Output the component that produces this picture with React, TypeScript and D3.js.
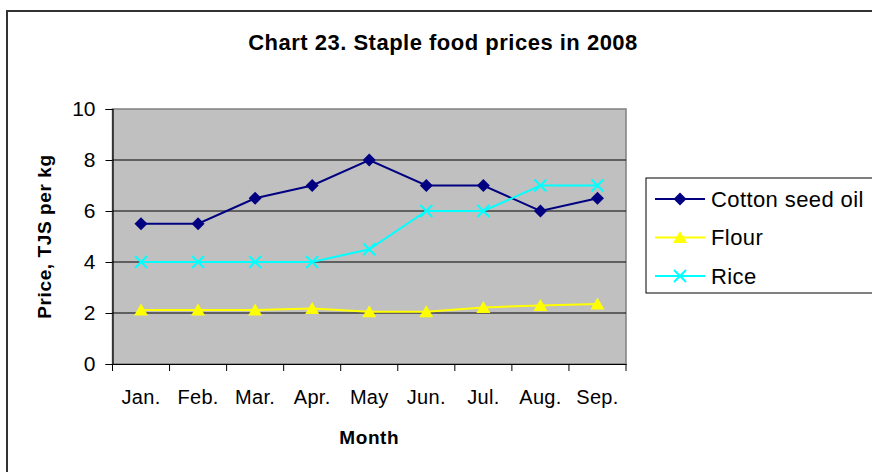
import { useEffect, useRef } from "react";
import * as d3 from "d3";

const months = ["Jan.", "Feb.", "Mar.", "Apr.", "May", "Jun.", "Jul.", "Aug.", "Sep."];
const cottonSeedOil = [5.5, 5.5, 6.5, 7, 8, 7, 7, 6, 6.5];
const flour = [2.12, 2.12, 2.12, 2.18, 2.05, 2.05, 2.22, 2.29, 2.35];
const rice = [4, 4, 4, 4, 4.5, 6, 6, 7, 7];
const yTicks = [0, 2, 4, 6, 8, 10];

const seriesList = [
  { name: "Cotton seed oil", values: cottonSeedOil, color: "#000080", marker: "diamond" },
  { name: "Flour", values: flour, color: "#FFFF00", marker: "triangle" },
  { name: "Rice", values: rice, color: "#00FFFF", marker: "cross" },
];

const W = 872;
const H = 472;
const plot = { left: 112.5, right: 626, top: 109, bottom: 364 };
const font = "'Liberation Sans', Arial, sans-serif";

function drawMarker(g: any, type: string, x: number, y: number, color: string) {
  if (type === "diamond") {
    g.append("path")
      .attr("d", `M${x},${y - 6.5}L${x + 6.5},${y}L${x},${y + 6.5}L${x - 6.5},${y}Z`)
      .attr("fill", color);
  } else if (type === "triangle") {
    g.append("path")
      .attr("d", `M${x},${y - 6.5}L${x + 7},${y + 5.5}L${x - 7},${y + 5.5}Z`)
      .attr("fill", color);
  } else {
    g.append("path")
      .attr("d", `M${x - 6},${y - 6}L${x + 6},${y + 6}M${x + 6},${y - 6}L${x - 6},${y + 6}`)
      .attr("stroke", color)
      .attr("stroke-width", 2)
      .attr("fill", "none");
  }
}

export default function App() {
  const ref = useRef<SVGSVGElement>(null);

  useEffect(() => {
    const svg = d3.select(ref.current);
    svg.selectAll("*").remove();

    // outer chart border (runs off right and bottom)
    svg.append("path")
      .attr("d", `M7,${H + 5}V11H${W + 5}`)
      .attr("fill", "none")
      .attr("stroke", "#333")
      .attr("stroke-width", 2);

    svg.append("text")
      .attr("x", 443)
      .attr("y", 50)
      .attr("text-anchor", "middle")
      .attr("font-family", font)
      .attr("font-weight", "bold")
      .attr("font-size", 22)
      .attr("letter-spacing", 0.5)
      .text("Chart 23. Staple food prices in 2008");

    const x = d3.scaleBand().domain(months).range([plot.left, plot.right]);
    const y = d3.scaleLinear().domain([0, 10]).range([plot.bottom, plot.top]);

    // plot area
    svg.append("rect")
      .attr("x", plot.left)
      .attr("y", plot.top)
      .attr("width", plot.right - plot.left)
      .attr("height", plot.bottom - plot.top)
      .attr("fill", "#C0C0C0")
      .attr("stroke", "#808080")
      .attr("stroke-width", 1.5);

    svg.append("g")
      .selectAll("line")
      .data(yTicks.filter(t => t > 0 && t < 10))
      .join("line")
      .attr("x1", plot.left)
      .attr("x2", plot.right)
      .attr("y1", d => y(d))
      .attr("y2", d => y(d))
      .attr("stroke", "#000")
      .attr("stroke-width", 1);

    // y axis
    const yAxis = svg.append("g")
      .attr("transform", `translate(${plot.left},0)`)
      .call(d3.axisLeft(y).tickValues(yTicks).tickSize(7).tickPadding(10).tickFormat(d3.format("d")));
    yAxis.select(".domain").attr("stroke", "#000").attr("stroke-width", 1.2);
    yAxis.selectAll("text").attr("font-family", font).attr("font-size", 21).attr("fill", "#000");

    // x axis
    const xAxis = svg.append("g")
      .attr("transform", `translate(0,${plot.bottom})`)
      .call(d3.axisBottom(x).tickSize(0).tickPadding(26));
    xAxis.select(".domain").attr("stroke", "#000").attr("stroke-width", 1.2);
    xAxis.selectAll("text")
      .attr("font-family", font)
      .attr("font-size", 20)
      .attr("letter-spacing", 0.3)
      .attr("fill", "#000");
    xAxis.append("g")
      .selectAll("line")
      .data(d3.range(months.length + 1))
      .join("line")
      .attr("x1", i => plot.left + i * x.step())
      .attr("x2", i => plot.left + i * x.step())
      .attr("y1", 0)
      .attr("y2", 7)
      .attr("stroke", "#000");

    svg.append("text")
      .attr("x", (plot.left + plot.right) / 2)
      .attr("y", 444)
      .attr("text-anchor", "middle")
      .attr("font-family", font)
      .attr("font-weight", "bold")
      .attr("font-size", 19)
      .attr("letter-spacing", 0.6)
      .text("Month");

    svg.append("text")
      .attr("transform", `translate(51,${(plot.top + plot.bottom) / 2}) rotate(-90)`)
      .attr("text-anchor", "middle")
      .attr("font-family", font)
      .attr("font-weight", "bold")
      .attr("font-size", 19)
      .attr("letter-spacing", 0.6)
      .text("Price, TJS per kg");

    // series
    const cx = (i: number) => (x(months[i]) as number) + x.bandwidth() / 2;
    seriesList.forEach(s => {
      const line = d3.line<number>().x((_, i) => cx(i)).y(d => y(d));
      svg.append("path")
        .attr("d", line(s.values))
        .attr("fill", "none")
        .attr("stroke", s.color)
        .attr("stroke-width", 2);
      const mg = svg.append("g");
      s.values.forEach((v, i) => drawMarker(mg, s.marker, cx(i), y(v), s.color));
    });

    // legend
    const lg = svg.append("g");
    lg.append("rect")
      .attr("x", 646)
      .attr("y", 178)
      .attr("width", 240)
      .attr("height", 115)
      .attr("fill", "#fff")
      .attr("stroke", "#000")
      .attr("stroke-width", 1);
    seriesList.forEach((s, i) => {
      const ly = 199 + i * 38.5;
      lg.append("line")
        .attr("x1", 655)
        .attr("x2", 705)
        .attr("y1", ly)
        .attr("y2", ly)
        .attr("stroke", s.color)
        .attr("stroke-width", 2);
      drawMarker(lg, s.marker, 680, ly, s.color);
      lg.append("text")
        .attr("x", 711)
        .attr("y", ly)
        .attr("dy", "0.35em")
        .attr("font-family", font)
        .attr("font-size", 22)
        .attr("letter-spacing", 0.4)
        .text(s.name);
    });
  }, []);

  return (
    <div style={{ position: "absolute", left: 0, top: 0 }}>
      <svg ref={ref} width={W} height={H} style={{ display: "block", background: "#fff" }} />
    </div>
  );
}
